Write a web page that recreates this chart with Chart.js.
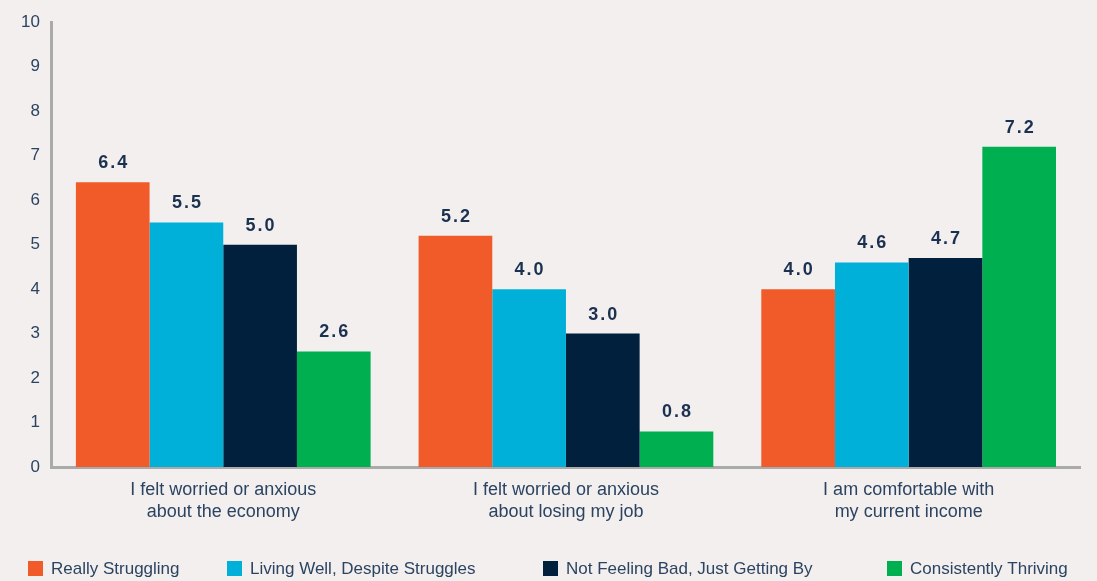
<!DOCTYPE html>
<html>
<head>
<meta charset="utf-8">
<script src="https://cdn.jsdelivr.net/npm/chart.js@4"></script>
<style>
  html, body { margin: 0; padding: 0; background: #f3efee; }
  #wrap { width: 1097px; height: 581px; position: relative; }
</style>
</head>
<body>
<div id="wrap"><canvas id="chart"></canvas></div>
<script>
const categories = [
    ['I felt worried or anxious', 'about the economy'],
    ['I felt worried or anxious', 'about losing my job'],
    ['I am comfortable with', 'my current income'],
];
const seriesNames = [
    'Really Struggling',
    'Living Well, Despite Struggles',
    'Not Feeling Bad, Just Getting By',
    'Consistently Thriving',
];
const reallyStruggling = [6.4, 5.2, 4.0];
const livingWell = [5.5, 4.0, 4.6];
const notFeelingBad = [5.0, 3.0, 4.7];
const consistentlyThriving = [2.6, 0.8, 7.2];
const colors = ['#f15a29', '#00b0d8', '#00203d', '#00b050'];

const textColor = '#2b4461';
const fontFamily = '"Liberation Sans", Arial, sans-serif';

// numbers above each bar
const valueLabels = {
    id: 'valueLabels',
    afterDatasetsDraw(chart) {
        const ctx = chart.ctx;
        ctx.save();
        ctx.font = 'bold 18px ' + fontFamily;
        ctx.fillStyle = '#1b3150';
        ctx.textAlign = 'center';
        ctx.textBaseline = 'bottom';
        if ('letterSpacing' in ctx) ctx.letterSpacing = '2px';
        chart.data.datasets.forEach((ds, i) => {
            chart.getDatasetMeta(i).data.forEach((bar, j) => {
                ctx.fillText(ds.data[j].toFixed(1), bar.x + 1, bar.y - 10);
            });
        });
        ctx.restore();
    },
};

// legend row along the bottom, spaced like the original
const legendStarts = [28, 227, 543, 887];
const bottomLegend = {
    id: 'bottomLegend',
    afterDraw(chart) {
        const ctx = chart.ctx;
        ctx.save();
        ctx.font = '17px ' + fontFamily;
        ctx.textBaseline = 'middle';
        chart.data.datasets.forEach((ds, i) => {
            const x = legendStarts[i];
            ctx.fillStyle = ds.backgroundColor;
            ctx.fillRect(x, 561, 15, 15);
            ctx.fillStyle = textColor;
            ctx.fillText(ds.label, x + 23, 569);
        });
        ctx.restore();
    },
};

const allSeries = [reallyStruggling, livingWell, notFeelingBad, consistentlyThriving];

new Chart(document.getElementById('chart').getContext('2d'), {
    type: 'bar',
    data: {
        labels: categories,
        datasets: allSeries.map((data, i) => ({
            label: seriesNames[i],
            data: data,
            backgroundColor: colors[i],
            borderWidth: 0,
            categoryPercentage: 0.86,
            barPercentage: 1.0,
        })),
    },
    options: {
        responsive: true,
        maintainAspectRatio: false,
        animation: false,
        layout: { padding: { top: 8, right: 17, left: 9, bottom: 46 } },
        plugins: {
            tooltip: { enabled: false },
            legend: { display: false },
        },
        scales: {
            x: {
                grid: { display: false, drawTicks: false },
                border: { color: '#aaaaaa', width: 3 },
                ticks: {
                    color: textColor,
                    font: { family: fontFamily, size: 18, lineHeight: 1.22 },
                    padding: 12,
                    maxRotation: 0,
                },
            },
            y: {
                min: 0,
                max: 10,
                grid: { display: false, drawTicks: false },
                border: { color: '#aaaaaa', width: 3 },
                ticks: {
                    stepSize: 1,
                    color: textColor,
                    font: { family: fontFamily, size: 17 },
                    padding: 12,
                },
            },
        },
    },
    plugins: [valueLabels, bottomLegend],
});
</script>
</body>
</html>
